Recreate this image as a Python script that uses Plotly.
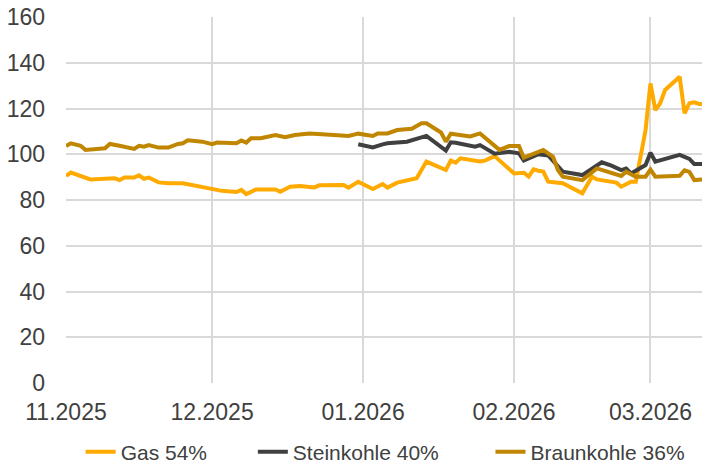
import plotly.graph_objects as go

# --- data ---
gas_dates = ["2025-11-01", "2025-11-02", "2025-11-06", "2025-11-11", "2025-11-12", "2025-11-13",
             "2025-11-15", "2025-11-16", "2025-11-17", "2025-11-18", "2025-11-20", "2025-11-22",
             "2025-11-25", "2025-11-30",
             "2025-12-01", "2025-12-03", "2025-12-06", "2025-12-07", "2025-12-08", "2025-12-10",
             "2025-12-14", "2025-12-15", "2025-12-17", "2025-12-19", "2025-12-22", "2025-12-23",
             "2025-12-28", "2025-12-29", "2025-12-31",
             "2026-01-03", "2026-01-05", "2026-01-06", "2026-01-08", "2026-01-12", "2026-01-14",
             "2026-01-18", "2026-01-19", "2026-01-20", "2026-01-21", "2026-01-25", "2026-01-26",
             "2026-01-28",
             "2026-02-01", "2026-02-03", "2026-02-04", "2026-02-05", "2026-02-06", "2026-02-07",
             "2026-02-08", "2026-02-11", "2026-02-15", "2026-02-17", "2026-02-18", "2026-02-21",
             "2026-02-22", "2026-02-23", "2026-02-25", "2026-02-26", "2026-02-27", "2026-02-28",
             "2026-03-01", "2026-03-02", "2026-03-03", "2026-03-04", "2026-03-07", "2026-03-08",
             "2026-03-09", "2026-03-10", "2026-03-11", "2026-03-12"]
gas = [90.5, 92.0, 89.0, 89.5, 88.7, 89.8, 89.8, 90.8, 89.3, 89.8, 87.7, 87.3, 87.3, 85.1,
       84.8, 84.0, 83.5, 84.4, 82.6, 84.6, 84.6, 83.6, 85.8, 86.1, 85.5, 86.4, 86.6, 85.4, 88.0,
       84.8, 87.0, 85.4, 87.6, 89.5, 96.8, 93.1, 97.2, 96.3, 98.2, 96.8, 97.2, 99.2,
       91.6, 91.9, 90.2, 93.4, 92.8, 92.4, 88.0, 87.3, 82.9, 90.2, 89.0, 88.0, 87.6, 85.8,
       88.0, 88.0, 99.0, 110.6,
       131.0, 119.3, 122.3, 128.1, 133.9, 117.9, 122.3, 122.7, 122.0, 122.0]

stein_dates = ["2025-12-31", "2026-01-03", "2026-01-05", "2026-01-06", "2026-01-10", "2026-01-13",
               "2026-01-14", "2026-01-18", "2026-01-19", "2026-01-20", "2026-01-24", "2026-01-25",
               "2026-01-28", "2026-01-31",
               "2026-02-02", "2026-02-03", "2026-02-06", "2026-02-08", "2026-02-09", "2026-02-11",
               "2026-02-15", "2026-02-17", "2026-02-19", "2026-02-21", "2026-02-23", "2026-02-24",
               "2026-02-25", "2026-02-28",
               "2026-03-01", "2026-03-02", "2026-03-04", "2026-03-07", "2026-03-09", "2026-03-10",
               "2026-03-11", "2026-03-12"]
stein = [104.4, 103.0, 104.3, 104.8, 105.5, 107.7, 108.0, 101.6, 105.2, 105.0, 103.3, 104.0,
         100.2, 101.1,
         100.4, 97.3, 100.0, 99.5, 97.0, 92.4, 90.9, 93.5, 96.5, 95.0, 93.1, 93.8, 91.6, 95.3,
         100.7, 96.8, 98.0, 99.7, 98.0, 95.7, 95.7, 95.7]

braun_dates = ["2025-11-01", "2025-11-02", "2025-11-04", "2025-11-05", "2025-11-09", "2025-11-10",
               "2025-11-12", "2025-11-15", "2025-11-16", "2025-11-17", "2025-11-18", "2025-11-20",
               "2025-11-22", "2025-11-24", "2025-11-25", "2025-11-26", "2025-11-29",
               "2025-12-01", "2025-12-02", "2025-12-06", "2025-12-07", "2025-12-08", "2025-12-09",
               "2025-12-11", "2025-12-14", "2025-12-16", "2025-12-18", "2025-12-21", "2025-12-26",
               "2025-12-29", "2025-12-31",
               "2026-01-03", "2026-01-04", "2026-01-06", "2026-01-08", "2026-01-11", "2026-01-13",
               "2026-01-14", "2026-01-17", "2026-01-18", "2026-01-19", "2026-01-23", "2026-01-25",
               "2026-01-29", "2026-01-31",
               "2026-02-02", "2026-02-03", "2026-02-06", "2026-02-07", "2026-02-09", "2026-02-10",
               "2026-02-11", "2026-02-15", "2026-02-18", "2026-02-21", "2026-02-23", "2026-02-24",
               "2026-02-26", "2026-02-28",
               "2026-03-01", "2026-03-02", "2026-03-07", "2026-03-08", "2026-03-09", "2026-03-10",
               "2026-03-11", "2026-03-12"]
braun = [103.6, 104.8, 103.7, 101.9, 102.6, 104.5, 103.7, 102.3, 103.7, 103.3, 104.0, 102.9,
         102.9, 104.5, 104.8, 106.1, 105.5,
         104.4, 105.1, 104.8, 106.0, 105.1, 107.0, 107.0, 108.4, 107.4, 108.4, 109.1, 108.4,
         108.0, 109.0,
         108.0, 109.1, 109.1, 110.6, 111.1, 113.5, 113.5, 109.5, 105.5, 109.0, 107.8, 109.1,
         101.9, 103.6,
         103.6, 98.5, 101.2, 101.9, 98.9, 93.1, 90.2, 88.7, 93.8, 91.6, 90.5, 92.4, 90.2, 90.2,
         93.3, 90.2, 90.6, 93.0, 92.3, 88.7, 89.0, 89.0]

nb = "\u00a0"  # widen the legend gaps like the original
series = [
    ("Gas 54%" + nb * 7, gas_dates, gas, "#FFAA00"),
    ("Steinkohle 40%" + nb * 8, stein_dates, stein, "#404040"),
    ("Braunkohle 36%", braun_dates, braun, "#C08600"),
]

fig = go.Figure()
for name, xs, ys, col in series:
    fig.add_trace(go.Scatter(x=xs, y=ys, name=name, mode="lines",
                             line=dict(color=col, width=4)))

grid = "#D9D9D9"
tickfont = dict(size=23, color="#404040")
fig.update_layout(
    width=702, height=466,
    margin=dict(l=66, r=0, t=17, b=83),
    plot_bgcolor="white", paper_bgcolor="white",
    font=dict(family="Liberation Sans, Arial, sans-serif", size=21, color="#404040"),
    legend=dict(orientation="h", x=0.023, xanchor="left",
                yref="container", y=0.03, yanchor="middle", font=dict(size=21)),
    xaxis=dict(type="date", range=["2025-11-01", "2026-03-11 14:00"],
               tick0="2025-11-01", dtick="M1", tickformat="%m.%Y", automargin=False,
               showgrid=True, gridcolor=grid, gridwidth=2, zeroline=False, tickfont=tickfont,
               showline=False, ticks="", ticklabelstandoff=13),
    yaxis=dict(range=[0, 160], dtick=20, showgrid=True, gridcolor=grid, gridwidth=2,
               automargin=False, zeroline=False, showline=False, ticks="", tickfont=tickfont,
               ticklabelstandoff=20),
)

# page has a default body margin; drop it so the chart fills the window
fig.write_html("out.html", config={"displayModeBar": False},
               post_script="document.body.style.margin='0';document.body.style.overflow='hidden';")
